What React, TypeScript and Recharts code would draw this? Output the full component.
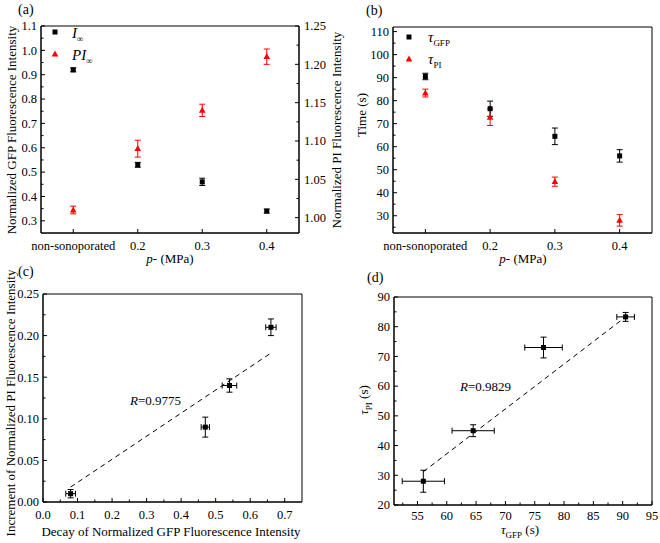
import React from "react";
import {
  ScatterChart,
  Scatter,
  XAxis,
  YAxis,
  ErrorBar,
  ReferenceArea,
} from "recharts";

const FONT = '"Liberation Serif", "Times New Roman", serif';
const RED = "#ff0000";

// (a) and (b): acoustic pressure groups
const PRESSURE = [0.1, 0.2, 0.3, 0.4];
const PRESSURE_LABELS = ["non-sonoporated", "0.2", "0.3", "0.4"];

const I_INF = [0.92, 0.53, 0.46, 0.34];
const I_INF_ERR = [0.008, 0.01, 0.015, 0.008];
const PI_INF = [1.01, 1.09, 1.14, 1.21];
const PI_INF_ERR = [0.005, 0.011, 0.008, 0.01];

const TAU_GFP = [90.5, 76.5, 64.5, 56];
const TAU_GFP_ERR = [1.4, 3.3, 3.6, 2.7];
const TAU_PI = [83.3, 72.8, 44.8, 28];
const TAU_PI_ERR = [1.7, 3.6, 2.0, 2.5];

// (c) decay vs increment
const GFP_DECAY = [0.08, 0.47, 0.54, 0.66];
const GFP_DECAY_ERR = [0.014, 0.012, 0.021, 0.015];
const PI_INCREMENT = [0.01, 0.09, 0.14, 0.21];
const PI_INCREMENT_ERR = [0.005, 0.012, 0.008, 0.01];
const FIT_C_X = [0.08, 0.66];
const FIT_C_Y = [0.018, 0.179];

// (d) tau_PI vs tau_GFP
const D_TAU_GFP = [56, 64.5, 76.5, 90.5];
const D_TAU_GFP_ERR = [3.6, 3.6, 3.2, 1.5];
const D_TAU_PI = [28, 45, 73, 83.3];
const D_TAU_PI_ERR = [3.7, 2.0, 3.5, 1.5];
const FIT_D_X = [56, 90.5];
const FIT_D_Y = [31.2, 83.3];

// tick values
const A_LEFT_MAJOR = [0.3, 0.4, 0.5, 0.6, 0.7, 0.8, 0.9, 1.0, 1.1];
const A_LEFT_MINOR = [0.35, 0.45, 0.55, 0.65, 0.75, 0.85, 0.95, 1.05];
const A_RIGHT_MAJOR = [1.0, 1.05, 1.1, 1.15, 1.2, 1.25];
const A_RIGHT_MINOR = [1.025, 1.075, 1.125, 1.175, 1.225];
const B_Y_MAJOR = [30, 40, 50, 60, 70, 80, 90, 100, 110];
const B_Y_MINOR = [25, 35, 45, 55, 65, 75, 85, 95, 105];
const C_X_MAJOR = [0, 0.1, 0.2, 0.3, 0.4, 0.5, 0.6, 0.7];
const C_X_MINOR = [0.05, 0.15, 0.25, 0.35, 0.45, 0.55, 0.65];
const C_Y_MAJOR = [0, 0.05, 0.1, 0.15, 0.2, 0.25];
const C_Y_MINOR = [0.025, 0.075, 0.125, 0.175, 0.225];
const D_X_MAJOR = [55, 60, 65, 70, 75, 80, 85, 90, 95];
const D_X_MINOR = [52.5, 57.5, 62.5, 67.5, 72.5, 77.5, 82.5, 87.5, 92.5];
const D_Y_MAJOR = [20, 30, 40, 50, 60, 70, 80, 90];
const D_Y_MINOR = [25, 35, 45, 55, 65, 75, 85];

const near = (list: number[], v: number) => list.some((m) => Math.abs(m - v) < 1e-6);
type Fmt = (v: number) => string;

const TICK_FS = 12.5;

const bottomTick = (majors: number[], fmt: Fmt, dy = 16.5) => (props: any) => {
  const { x, y, payload } = props;
  const major = near(majors, payload.value);
  return (
    <g>
      <line x1={x} x2={x} y1={y} y2={y - (major ? 4 : 2.5)} stroke="#000" />
      {major && (
        <text
          x={x}
          y={y + dy}
          textAnchor="middle"
          fontFamily={FONT}
          style={{ fontFamily: FONT }}
          fontSize={TICK_FS}
          fill="#000"
        >
          {fmt(payload.value)}
        </text>
      )}
    </g>
  );
};

const leftTick = (majors: number[], fmt: Fmt) => (props: any) => {
  const { x, y, payload } = props;
  const major = near(majors, payload.value);
  return (
    <g>
      <line x1={x} x2={x + (major ? 4 : 2.5)} y1={y} y2={y} stroke="#000" />
      {major && (
        <text
          x={x - 4}
          y={y + 4.3}
          textAnchor="end"
          fontFamily={FONT}
          style={{ fontFamily: FONT }}
          fontSize={TICK_FS}
          fill="#000"
        >
          {fmt(payload.value)}
        </text>
      )}
    </g>
  );
};

const rightTick = (majors: number[], fmt: Fmt) => (props: any) => {
  const { x, y, payload } = props;
  const major = near(majors, payload.value);
  return (
    <g>
      <line x1={x} x2={x - (major ? 4 : 2.5)} y1={y} y2={y} stroke="#000" />
      {major && (
        <text
          x={x + 5}
          y={y + 4.3}
          textAnchor="start"
          fontFamily={FONT}
          style={{ fontFamily: FONT }}
          fontSize={TICK_FS}
          fill="#000"
        >
          {fmt(payload.value)}
        </text>
      )}
    </g>
  );
};

const Square = (p: any) => <rect x={p.cx - 2.5} y={p.cy - 2.5} width={5} height={5} fill="#000" />;
const Triangle = (p: any) => (
  <polygon
    points={`${p.cx},${p.cy - 3.6} ${p.cx + 3.3},${p.cy + 2.4} ${p.cx - 3.3},${p.cy + 2.4}`}
    fill={RED}
  />
);
const NoShape = () => <g />;

// x is the baseline position of the rotated title
const vTitle = (x: number, y: number, body: React.ReactNode) => () =>
  (
    <text
      x={x}
      y={y}
      transform={`rotate(-90 ${x} ${y})`}
      textAnchor="middle"
      fontFamily={FONT}
      fontSize={13}
      fill="#000"
    >
      {body}
    </text>
  );

const hTitle = (x: number, y: number, body: React.ReactNode) => () =>
  (
    <text x={x} y={y} textAnchor="middle" fontFamily={FONT} fontSize={13} fill="#000">
      {body}
    </text>
  );

const pressureTitle = (
  <>
    <tspan fontStyle="italic">p</tspan>- (MPa)
  </>
);

const axisCommon = {
  tickSize: 0,
  tickMargin: 0,
  tickLine: false,
  interval: 0 as const,
  axisLine: { stroke: "#000" },
  allowDataOverflow: true,
};

const fmtPressure = (v: number) => PRESSURE_LABELS[PRESSURE.findIndex((p) => Math.abs(p - v) < 1e-6)];

function PanelA() {
  const iData = PRESSURE.map((x, i) => ({ x, y: I_INF[i], ey: I_INF_ERR[i] }));
  const piData = PRESSURE.map((x, i) => ({ x, y: PI_INF[i], ey: PI_INF_ERR[i] }));
  return (
    <ScatterChart width={345} height={270} margin={{ top: 26, right: 0, bottom: 0, left: 0 }}>
      <XAxis
        {...axisCommon}
        type="number"
        dataKey="x"
        domain={[0.05, 0.45]}
        ticks={PRESSURE}
        height={37}
        tick={bottomTick(PRESSURE, fmtPressure)}
        label={hTitle(170, 263, pressureTitle)}
      />
      <YAxis
        {...axisCommon}
        yAxisId="l"
        type="number"
        dataKey="y"
        domain={[0.25, 1.1]}
        ticks={[...A_LEFT_MAJOR, ...A_LEFT_MINOR]}
        width={41}
        tick={leftTick(A_LEFT_MAJOR, (v) => v.toFixed(1))}
        label={vTitle(16, 130, "Normalized GFP Fluorescence Intensity")}
      />
      <YAxis
        {...axisCommon}
        yAxisId="r"
        orientation="right"
        type="number"
        dataKey="y"
        domain={[0.98, 1.25]}
        ticks={[...A_RIGHT_MAJOR, ...A_RIGHT_MINOR]}
        width={46}
        tick={rightTick(A_RIGHT_MAJOR, (v) => v.toFixed(2))}
        label={vTitle(341, 130, "Normalized PI Fluorescence Intensity")}
      />
      <ReferenceArea yAxisId="l" x1={0.05} x2={0.45} y1={0.25} y2={1.1} fill="none" stroke="#000" />
      <Scatter yAxisId="l" data={iData} shape={Square} isAnimationActive={false}>
        <ErrorBar dataKey="ey" direction="y" width={3} stroke="#000" strokeWidth={1} />
      </Scatter>
      <Scatter yAxisId="r" data={piData} shape={Triangle} isAnimationActive={false}>
        <ErrorBar dataKey="ey" direction="y" width={3} stroke={RED} strokeWidth={1} />
      </Scatter>
    </ScatterChart>
  );
}

function PanelB() {
  const gfpData = PRESSURE.map((x, i) => ({ x, y: TAU_GFP[i], ey: TAU_GFP_ERR[i] }));
  const piData = PRESSURE.map((x, i) => ({ x, y: TAU_PI[i], ey: TAU_PI_ERR[i] }));
  return (
    <ScatterChart width={330} height={270} margin={{ top: 27, right: 8, bottom: 0, left: 0 }}>
      <XAxis
        {...axisCommon}
        type="number"
        dataKey="x"
        domain={[0.05, 0.45]}
        ticks={PRESSURE}
        height={37}
        tick={bottomTick(PRESSURE, fmtPressure)}
        label={hTitle(193, 263, pressureTitle)}
      />
      <YAxis
        {...axisCommon}
        type="number"
        dataKey="y"
        domain={[22.5, 112]}
        ticks={[...B_Y_MAJOR, ...B_Y_MINOR]}
        width={63}
        tick={leftTick(B_Y_MAJOR, (v) => String(v))}
        label={vTitle(36, 115, "Time (s)")}
      />
      <ReferenceArea x1={0.05} x2={0.45} y1={22.5} y2={112} fill="none" stroke="#000" />
      <Scatter data={piData} shape={Triangle} isAnimationActive={false}>
        <ErrorBar dataKey="ey" direction="y" width={3} stroke={RED} strokeWidth={1} />
      </Scatter>
      <Scatter data={gfpData} shape={Square} isAnimationActive={false}>
        <ErrorBar dataKey="ey" direction="y" width={3} stroke="#000" strokeWidth={1} />
      </Scatter>
    </ScatterChart>
  );
}

function PanelC() {
  const pts = GFP_DECAY.map((x, i) => ({ x, y: PI_INCREMENT[i], ex: GFP_DECAY_ERR[i], ey: PI_INCREMENT_ERR[i] }));
  const fit = FIT_C_X.map((x, i) => ({ x, y: FIT_C_Y[i] }));
  return (
    <ScatterChart width={330} height={273} margin={{ top: 24, right: 28, bottom: 0, left: 0 }}>
      <XAxis
        {...axisCommon}
        type="number"
        dataKey="x"
        domain={[0, 0.75]}
        ticks={[...C_X_MAJOR, ...C_X_MINOR]}
        height={41}
        tick={bottomTick(C_X_MAJOR, (v) => v.toFixed(1))}
        label={hTitle(171, 266, "Decay of Normalized GFP Fluorescence Intensity")}
      />
      <YAxis
        {...axisCommon}
        type="number"
        dataKey="y"
        domain={[0, 0.25]}
        ticks={[...C_Y_MAJOR, ...C_Y_MINOR]}
        width={43}
        tick={leftTick(C_Y_MAJOR, (v) => v.toFixed(2))}
        label={vTitle(14.5, 133, "Increment of Normalized PI Fluorescence Intensity")}
      />
      <ReferenceArea x1={0} x2={0.75} y1={0} y2={0.25} fill="none" stroke="#000" />
      <Scatter
        data={fit}
        shape={NoShape}
        line={{ stroke: "#000", strokeWidth: 1, strokeDasharray: "5 4" }}
        isAnimationActive={false}
      />
      <Scatter data={pts} shape={Square} isAnimationActive={false}>
        <ErrorBar dataKey="ey" direction="y" width={3} stroke="#000" strokeWidth={1} />
        <ErrorBar dataKey="ex" direction="x" width={3} stroke="#000" strokeWidth={1} />
      </Scatter>
    </ScatterChart>
  );
}

function PanelD() {
  const pts = D_TAU_GFP.map((x, i) => ({ x, y: D_TAU_PI[i], ex: D_TAU_GFP_ERR[i], ey: D_TAU_PI_ERR[i] }));
  const fit = FIT_D_X.map((x, i) => ({ x, y: FIT_D_Y[i] }));
  return (
    <ScatterChart width={330} height={273} margin={{ top: 27, right: 8, bottom: 0, left: 0 }}>
      <XAxis
        {...axisCommon}
        type="number"
        dataKey="x"
        domain={[51, 95]}
        ticks={[...D_X_MAJOR, ...D_X_MINOR]}
        height={38}
        tick={bottomTick(D_X_MAJOR, (v) => String(v), 14.5)}
        label={hTitle(
          190,
          264,
          <>
            <tspan fontStyle="italic">τ</tspan>
            <tspan fontSize={9} dy={3.5}>GFP</tspan>
            <tspan dy={-3.5}> (s)</tspan>
          </>
        )}
      />
      <YAxis
        {...axisCommon}
        type="number"
        dataKey="y"
        domain={[20, 90]}
        ticks={[...D_Y_MAJOR, ...D_Y_MINOR]}
        width={64}
        tick={leftTick(D_Y_MAJOR, (v) => String(v))}
        label={vTitle(
          38,
          130,
          <>
            <tspan fontStyle="italic">τ</tspan>
            <tspan fontSize={9} dy={3.5}>PI</tspan>
            <tspan dy={-3.5}> (s)</tspan>
          </>
        )}
      />
      <ReferenceArea x1={51} x2={95} y1={20} y2={90} fill="none" stroke="#000" />
      <Scatter
        data={fit}
        shape={NoShape}
        line={{ stroke: "#000", strokeWidth: 1, strokeDasharray: "5 4" }}
        isAnimationActive={false}
      />
      <Scatter data={pts} shape={Square} isAnimationActive={false}>
        <ErrorBar dataKey="ey" direction="y" width={3} stroke="#000" strokeWidth={1} />
        <ErrorBar dataKey="ex" direction="x" width={3} stroke="#000" strokeWidth={1} />
      </Scatter>
    </ScatterChart>
  );
}

// panel letters, legends and R annotations, in page coordinates
function Overlay() {
  return (
    <svg
      width={660}
      height={543}
      style={{ position: "absolute", left: 0, top: 0, pointerEvents: "none" }}
      fontFamily={FONT}
      fill="#000"
    >
      <text x={18} y={14} fontSize={14}>(a)</text>
      <text x={366} y={15} fontSize={14}>(b)</text>
      <text x={18} y={276} fontSize={14}>(c)</text>
      <text x={367} y={282} fontSize={14}>(d)</text>

      <Square cx={55} cy={32} />
      <text x={72} y={38} fontSize={15} fontStyle="italic">
        I<tspan fontSize={9} dy={4}>∞</tspan>
      </text>
      <Triangle cx={55} cy={54} />
      <text x={72} y={60} fontSize={15} fontStyle="italic">
        PI<tspan fontSize={9} dy={4}>∞</tspan>
      </text>

      <Square cx={409} cy={37} />
      <text x={428} y={42} fontSize={15}>
        <tspan fontStyle="italic">τ</tspan>
        <tspan fontSize={9} dy={4}>GFP</tspan>
      </text>
      <Triangle cx={409} cy={59} />
      <text x={428} y={64} fontSize={15}>
        <tspan fontStyle="italic">τ</tspan>
        <tspan fontSize={9} dy={4}>PI</tspan>
      </text>

      <text x={130} y={405} fontSize={13}>
        <tspan fontStyle="italic">R</tspan>=0.9775
      </text>
      <text x={460} y={391} fontSize={13}>
        <tspan fontStyle="italic">R</tspan>=0.9829
      </text>
    </svg>
  );
}

export default function App() {
  return (
    <div
      style={{
        position: "absolute",
        left: 0,
        top: 0,
        width: 660,
        height: 543,
        background: "#fff",
        overflow: "hidden",
      }}
    >
      <div style={{ position: "absolute", left: 0, top: 0 }}>
        <PanelA />
      </div>
      <div style={{ position: "absolute", left: 330, top: 0 }}>
        <PanelB />
      </div>
      <div style={{ position: "absolute", left: 0, top: 270 }}>
        <PanelC />
      </div>
      <div style={{ position: "absolute", left: 330, top: 270 }}>
        <PanelD />
      </div>
      <Overlay />
    </div>
  );
}
